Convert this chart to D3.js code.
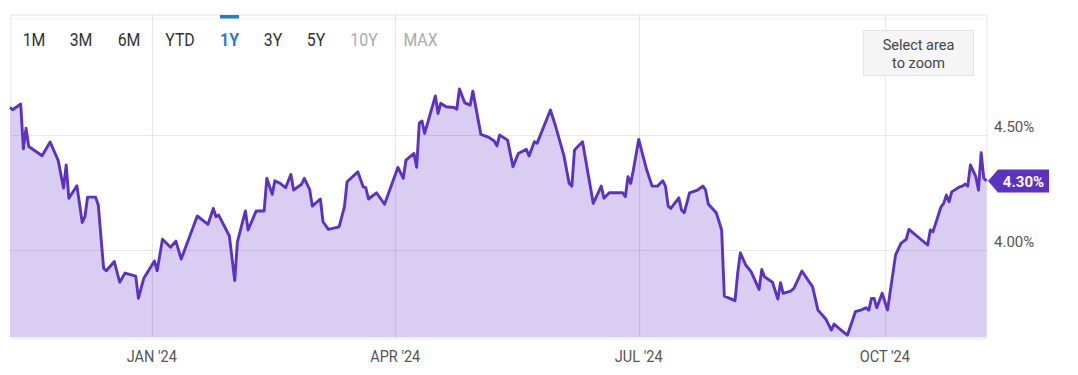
<!DOCTYPE html>
<html>
<head>
<meta charset="utf-8">
<script src="https://cdn.jsdelivr.net/npm/d3@7"></script>
<style>
  html, body { margin: 0; padding: 0; background: #fff; }
  svg { display: block; font-family: Roboto, "Noto Sans", sans-serif; }
</style>
</head>
<body>
<svg id="chart" width="1078" height="375"></svg>
<script>
// 1Y treasury yield, daily closes (%)
const dates = [
  "2023-11-09","2023-11-10","2023-11-13","2023-11-14","2023-11-15","2023-11-16","2023-11-21","2023-11-24",
  "2023-11-27","2023-11-29","2023-11-30","2023-12-01","2023-12-04","2023-12-06","2023-12-07","2023-12-08",
  "2023-12-11","2023-12-12","2023-12-14","2023-12-15","2023-12-18","2023-12-20","2023-12-22","2023-12-26",
  "2023-12-27","2023-12-29","2024-01-02","2024-01-03","2024-01-05","2024-01-08","2024-01-10","2024-01-12",
  "2024-01-18","2024-01-22","2024-01-24","2024-01-25","2024-01-26","2024-01-30","2024-02-01","2024-02-02",
  "2024-02-05","2024-02-06","2024-02-09","2024-02-12","2024-02-13","2024-02-15","2024-02-16","2024-02-18",
  "2024-02-20","2024-02-22","2024-02-23","2024-02-26","2024-02-27","2024-02-29","2024-03-01","2024-03-04",
  "2024-03-05","2024-03-07","2024-03-11","2024-03-13","2024-03-14","2024-03-18","2024-03-20","2024-03-21",
  "2024-03-22","2024-03-25","2024-03-28","2024-04-02","2024-04-04","2024-04-05","2024-04-08","2024-04-09",
  "2024-04-10","2024-04-11","2024-04-12","2024-04-16","2024-04-17","2024-04-18","2024-04-20","2024-04-23",
  "2024-04-24","2024-04-25","2024-04-27","2024-04-29","2024-04-30","2024-05-03","2024-05-06","2024-05-08",
  "2024-05-09","2024-05-10","2024-05-13","2024-05-15","2024-05-17","2024-05-20","2024-05-21","2024-05-23",
  "2024-05-24","2024-05-29","2024-05-31","2024-06-03","2024-06-05","2024-06-06","2024-06-07","2024-06-10",
  "2024-06-14","2024-06-17","2024-06-18","2024-06-20","2024-06-25","2024-06-26","2024-06-27","2024-06-28",
  "2024-06-29","2024-07-01","2024-07-04","2024-07-06","2024-07-08","2024-07-10","2024-07-11","2024-07-12",
  "2024-07-13","2024-07-16","2024-07-17","2024-07-18","2024-07-20","2024-07-23","2024-07-25","2024-07-26",
  "2024-07-27","2024-07-30","2024-08-01","2024-08-02","2024-08-06","2024-08-07","2024-08-08","2024-08-10",
  "2024-08-12","2024-08-15","2024-08-16","2024-08-17","2024-08-20","2024-08-22","2024-08-23","2024-08-24",
  "2024-08-27","2024-08-28","2024-08-31","2024-09-04","2024-09-06","2024-09-09","2024-09-11","2024-09-12",
  "2024-09-15","2024-09-17","2024-09-20","2024-09-22","2024-09-24","2024-09-25","2024-09-26","2024-09-27",
  "2024-09-28","2024-09-30","2024-10-02","2024-10-05","2024-10-07","2024-10-09","2024-10-10","2024-10-17",
  "2024-10-18","2024-10-19","2024-10-22","2024-10-23","2024-10-24","2024-10-25","2024-10-26","2024-10-29",
  "2024-10-30","2024-10-31","2024-11-01","2024-11-02","2024-11-04","2024-11-05","2024-11-06","2024-11-07",
  "2024-11-08"
];
const yields = [
  4.62, 4.61, 4.635, 4.44, 4.53, 4.45, 4.41, 4.47,
  4.39, 4.27, 4.37, 4.225, 4.28, 4.12, 4.145, 4.23,
  4.23, 4.196, 3.92, 3.91, 3.95, 3.86, 3.90, 3.887,
  3.79, 3.877, 3.952, 3.91, 4.047, 4.012, 4.039, 3.961,
  4.148, 4.112, 4.181, 4.145, 4.152, 4.061, 3.867, 4.036,
  4.17, 4.087, 4.17, 4.17, 4.312, 4.242, 4.301, 4.29,
  4.271, 4.329, 4.261, 4.286, 4.312, 4.264, 4.191, 4.222,
  4.123, 4.09, 4.101, 4.188, 4.297, 4.34, 4.275, 4.271,
  4.222, 4.249, 4.199, 4.36, 4.312, 4.391, 4.42, 4.36,
  4.553, 4.561, 4.507, 4.67, 4.594, 4.638, 4.623, 4.62,
  4.612, 4.70, 4.64, 4.63, 4.691, 4.503, 4.49, 4.474,
  4.453, 4.50, 4.478, 4.362, 4.42, 4.438, 4.409, 4.471,
  4.464, 4.609, 4.536, 4.413, 4.29, 4.278, 4.435, 4.471,
  4.203, 4.278, 4.225, 4.249, 4.249, 4.232, 4.319, 4.29,
  4.348, 4.481, 4.348, 4.278, 4.278, 4.301, 4.278, 4.191,
  4.181, 4.227, 4.174, 4.162, 4.249, 4.261, 4.278, 4.261,
  4.20, 4.162, 4.087, 3.80, 3.78, 3.901, 3.988, 3.935,
  3.906, 3.829, 3.916, 3.884, 3.86, 3.787, 3.858, 3.812,
  3.823, 3.833, 3.909, 3.84, 3.739, 3.699, 3.652, 3.678,
  3.649, 3.63, 3.732, 3.739, 3.749, 3.739, 3.79, 3.79,
  3.749, 3.812, 3.739, 3.978, 4.029, 4.047, 4.09, 4.022,
  4.087, 4.08, 4.188, 4.203, 4.239, 4.21, 4.253, 4.275,
  4.278, 4.287, 4.278, 4.37, 4.319, 4.261, 4.423, 4.312,
  4.30
];
const xTicks = ["2024-01-01", "2024-04-01", "2024-07-01", "2024-10-01"];
const yTicks = [4.0, 4.5];
const rangeButtons = ["1M", "3M", "6M", "YTD", "1Y", "3Y", "5Y", "10Y", "MAX"];
const activeRange = "1Y";
const disabledRanges = ["10Y", "MAX"];
const lastValue = 4.30;

const parse = d3.timeParse("%Y-%m-%d");
const data = dates.map((d, i) => ({ date: parse(d), value: yields[i] }));

const svg = d3.select("#chart");
const plot = { left: 11, right: 987, top: 15, bottom: 337 };

const x = d3.scaleTime()
  .domain([parse("2023-11-09"), parse("2024-11-08")])
  .range([10, 986.5]);
const y = d3.scaleLinear()
  .domain([3.622, 5.022])
  .range([plot.bottom, plot.top]);

// frame
svg.append("rect")
  .attr("x", plot.left).attr("y", plot.top)
  .attr("width", plot.right - plot.left).attr("height", plot.bottom - plot.top)
  .attr("fill", "#fff").attr("stroke", "#e6e6e6");
svg.append("line")
  .attr("x1", plot.left).attr("x2", plot.right)
  .attr("y1", plot.top + 4).attr("y2", plot.top + 4)
  .attr("stroke", "#f0f0f0");
svg.append("line")
  .attr("x1", plot.left).attr("x2", plot.right)
  .attr("y1", plot.bottom + 1.5).attr("y2", plot.bottom + 1.5)
  .attr("stroke", "#eef0f4").attr("stroke-width", 2);

const area = d3.area()
  .x(d => x(d.date))
  .y0(plot.bottom)
  .y1(d => y(d.value));
const line = d3.line()
  .x(d => x(d.date))
  .y(d => y(d.value));

svg.append("path").datum(data)
  .attr("d", area)
  .attr("fill", "#d9cdf1");

// grid
const grid = svg.append("g").attr("stroke", "rgba(0,0,0,0.09)").attr("stroke-width", 1.2);
grid.selectAll(".gx").data(xTicks).enter().append("line")
  .attr("x1", d => Math.round(x(parse(d))) + 0.5).attr("x2", d => Math.round(x(parse(d))) + 0.5)
  .attr("y1", plot.top).attr("y2", plot.bottom);
grid.selectAll(".gy").data(yTicks).enter().append("line")
  .attr("x1", plot.left).attr("x2", plot.right)
  .attr("y1", d => Math.round(y(d)) + 0.5).attr("y2", d => Math.round(y(d)) + 0.5);

svg.append("path").datum(data)
  .attr("d", line)
  .attr("fill", "none")
  .attr("stroke", "#5d32c3")
  .attr("stroke-width", 2.9)
  .attr("stroke-linejoin", "round");

// x axis labels (condensed look)
const fmt = d3.timeFormat("%b '%y");
svg.selectAll(".xl").data(xTicks).enter().append("text")
  .attr("transform", d => `translate(${x(parse(d))},362) scale(0.88,1)`)
  .attr("text-anchor", "middle")
  .attr("font-size", 16.5)
  .attr("fill", "#555")
  .text(d => fmt(parse(d)).toUpperCase());

// y axis labels
svg.selectAll(".yl").data(yTicks).enter().append("text")
  .attr("x", 994)
  .attr("y", d => y(d) - 3)
  .attr("font-size", 15)
  .attr("fill", "#555")
  .text(d => d.toFixed(2) + "%");

// last value badge
const ly = y(lastValue);
svg.append("path")
  .attr("d", `M${plot.right + 1},${ly} L998,${ly - 11.5} L1049,${ly - 11.5} L1049,${ly + 11.5} L998,${ly + 11.5} Z`)
  .attr("fill", "#5d32c3");
svg.append("text")
  .attr("x", 1023.5).attr("y", ly + 5.5)
  .attr("text-anchor", "middle")
  .attr("font-size", 15).attr("font-weight", "bold")
  .attr("fill", "#fff")
  .text(lastValue.toFixed(2) + "%");

// range selector
const btnX = [34, 81, 129, 180, 229.5, 273, 316, 364, 420.5];
svg.selectAll(".btn").data(rangeButtons).enter().append("text")
  .attr("transform", (d, i) => `translate(${btnX[i]},45.5) scale(0.88,1)`)
  .attr("text-anchor", "middle")
  .attr("font-size", 18)
  .attr("font-weight", d => d === activeRange ? "bold" : "normal")
  .attr("fill", d => d === activeRange ? "#1b7fd1" : disabledRanges.includes(d) ? "#aaa" : "#333")
  .text(d => d);
svg.append("rect")
  .attr("x", 220).attr("y", 15).attr("width", 19).attr("height", 3.5)
  .attr("fill", "#1b7fd1");

// zoom hint
svg.append("rect")
  .attr("x", 863.5).attr("y", 30.5).attr("width", 110).attr("height", 45)
  .attr("fill", "#f5f5f5").attr("stroke", "#e4e4e4");
svg.append("text")
  .attr("x", 918.5).attr("y", 50)
  .attr("text-anchor", "middle").attr("font-size", 14.5).attr("fill", "#444")
  .text("Select area");
svg.append("text")
  .attr("x", 918.5).attr("y", 68)
  .attr("text-anchor", "middle").attr("font-size", 14.5).attr("fill", "#444")
  .text("to zoom");
</script>
</body>
</html>
